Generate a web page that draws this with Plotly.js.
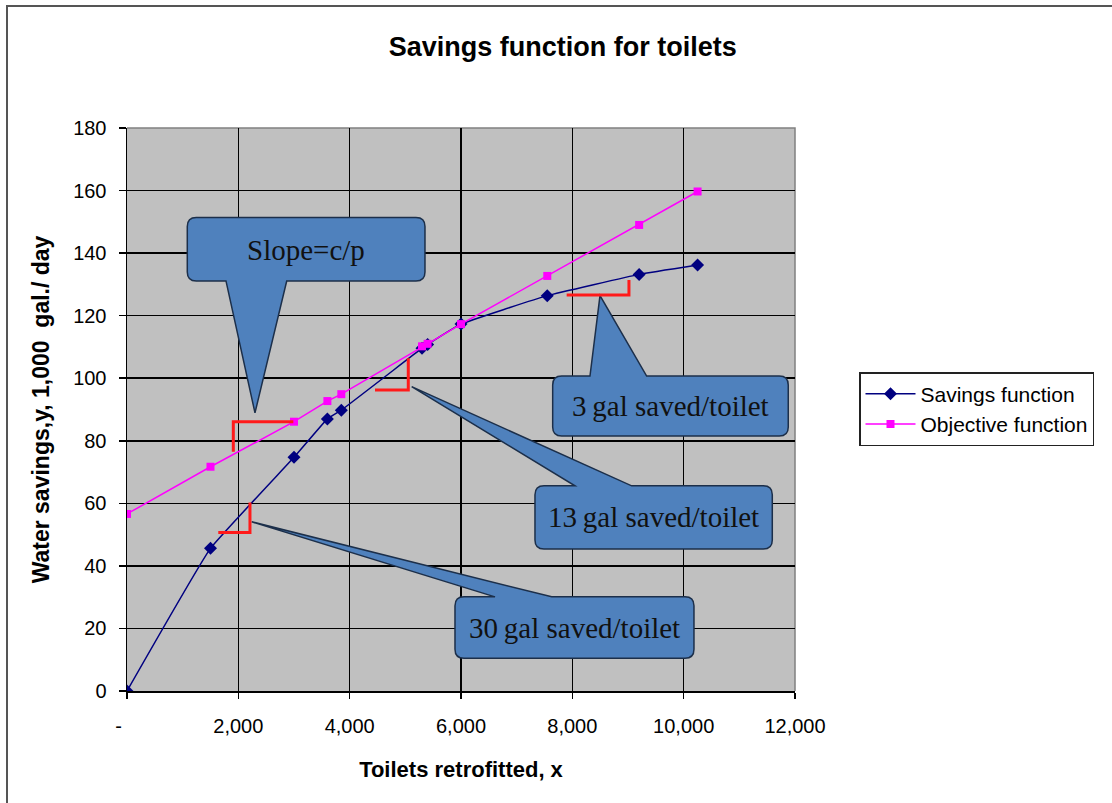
<!DOCTYPE html>
<html>
<head>
<meta charset="utf-8">
<script src="https://cdn.plot.ly/plotly-3.0.1.min.js"></script>
<style>
html,body{margin:0;padding:0;background:#fff;}
#chart{width:1112px;height:803px;}
</style>
</head>
<body>
<div id="chart"></div>
<script>
// ---- data ----
const savingsX = [0, 1500, 3000, 3600, 3850, 5300, 5400, 6000, 7550, 9200, 10250];
const savingsY = [0, 45.6, 74.7, 87.0, 89.8, 109.6, 110.8, 117.3, 126.4, 133.2, 136.2];
const objectiveX = [0, 1500, 3000, 3600, 3850, 5300, 5400, 6000, 7550, 9200, 10250];
const objectiveY = [56.6, 71.7, 86.1, 92.7, 94.9, 110.2, 111.0, 117.3, 132.7, 149.0, 159.7];
const xTickVals = [0, 2000, 4000, 6000, 8000, 10000, 12000];
const xTickText = ["-\u00a0\u00a0\u00a0", "2,000", "4,000", "6,000", "8,000", "10,000", "12,000"];
const yTickVals = [0, 20, 40, 60, 80, 100, 120, 140, 160, 180];
const seriesNames = ["Savings function", "Objective function"];
const calloutTexts = ["Slope=c/p", "3\u2009gal saved/toilet", "13\u2009gal saved/toilet", "30\u2009gal saved/toilet"];

// ---- layout geometry ----
const W = 1112, H = 803;
const M = {l: 127, r: 317, t: 128, b: 112};
const xRange = [0, 12000], yRange = [0, 180];
const plotW = W - M.l - M.r, plotH = H - M.t - M.b;
const pxX = plotW / (xRange[1] - xRange[0]);
const pxY = plotH / (yRange[1] - yRange[0]);

// rounded-rectangle callout with a wedge tail, in data coordinates
function callout(x0, x1, y0, y1, side, a, b, tx, ty) {
  const r = 9, rx = r / pxX, ry = r / pxY;
  let p = `M${x0 + rx},${y1} `;
  if (side === 'top') p += `L${a},${y1} L${tx},${ty} L${b},${y1} `;
  p += `L${x1 - rx},${y1} Q${x1},${y1} ${x1},${y1 - ry} L${x1},${y0 + ry} Q${x1},${y0} ${x1 - rx},${y0} `;
  if (side === 'bottom') p += `L${b},${y0} L${tx},${ty} L${a},${y0} `;
  p += `L${x0 + rx},${y0} Q${x0},${y0} ${x0},${y0 + ry} L${x0},${y1 - ry} Q${x0},${y1} ${x0 + rx},${y1} Z`;
  return {type: 'path', xref: 'x', yref: 'y', path: p, layer: 'above',
          fillcolor: '#4F81BD', line: {color: '#1c2f4a', width: 1.5}};
}
function bracket(pts) {
  const p = pts.map((q, i) => (i ? 'L' : 'M') + q[0] + ',' + q[1]).join(' ');
  return {type: 'path', xref: 'x', yref: 'y', path: p, layer: 'above',
          line: {color: '#FF1A1A', width: 3}};
}
function pxToPaperX(px) { return (px - M.l) / plotW; }
function pxToPaperY(py) { return (H - M.b - py) / plotH; }

const shapes = [
  // outer chart border (left & top visible)
  {type: 'path', xref: 'paper', yref: 'paper', layer: 'above',
   path: `M${pxToPaperX(7)},${pxToPaperY(803)} L${pxToPaperX(7)},${pxToPaperY(6)} L${pxToPaperX(1112)},${pxToPaperY(6)}`,
   line: {color: '#555', width: 2}},
  // plot area border (right/top, gray)
  {type: 'path', xref: 'paper', yref: 'paper', layer: 'below',
   path: 'M0,1 L1,1 L1,0', line: {color: '#808080', width: 1.5}},
  // callouts
  callout(1083, 5353, 131.1, 151.4, 'bottom', 1778, 2869, 2299, 88.9),
  callout(7647, 11879, 81.5, 100.7, 'top', 8317, 9335, 8497, 126.4),
  callout(7329, 11592, 45.4, 65.6, 'top', 8047, 9066, 5114, 97.3),
  callout(5892, 10185, 10.5, 30.1, 'top', 6611, 7629, 2240, 54.1),
  // red slope brackets
  bracket([[1910, 76.5], [1910, 86.1], [2988, 86.1]]),
  bracket([[4455, 96.2], [5053, 96.2], [5053, 106.4]]),
  bracket([[7898, 126.6], [9017, 126.6], [9017, 131.4]]),
  bracket([[1640, 50.7], [2209, 50.7], [2209, 60.3]])
];

const tfont = {family: 'Liberation Serif, Times New Roman, serif', size: 29, color: '#111'};
const annotations = [
  {x: 3217, y: 141.0, text: calloutTexts[0]},
  {x: 9763, y: 91.1, text: calloutTexts[1]},
  {x: 9461, y: 55.5, text: calloutTexts[2]},
  {x: 8038, y: 20.3, text: calloutTexts[3]}
].map(a => Object.assign(a, {xref: 'x', yref: 'y', showarrow: false, font: tfont,
                              xanchor: 'center', yanchor: 'middle'}));

const traces = [
  {x: savingsX, y: savingsY, name: seriesNames[0], type: 'scatter', mode: 'lines+markers',
   line: {color: '#000080', width: 1.5, shape: 'spline', smoothing: 0.3},
   marker: {symbol: 'diamond', size: 10, color: '#000080'}},
  {x: objectiveX, y: objectiveY, name: seriesNames[1], type: 'scatter', mode: 'lines+markers',
   line: {color: '#FF00FF', width: 1.5},
   marker: {symbol: 'square', size: 8, color: '#FF00FF'}}
];

const SANS = 'Liberation Sans, Arial, sans-serif';
const tickFont = {family: SANS, size: 20, color: '#000'};
const layout = {
  width: W, height: H,
  margin: M,
  paper_bgcolor: '#FFFFFF',
  plot_bgcolor: '#C0C0C0',
  font: {family: SANS, color: '#000'},
  title: {text: '<b>Savings function for toilets</b>',
          font: {family: SANS, size: 27, color: '#000'},
          x: 0.506, xref: 'container', xanchor: 'center', y: 1 - 47 / H, yanchor: 'middle'},
  xaxis: {range: xRange, tickvals: xTickVals, ticktext: xTickText,
          showgrid: true, gridcolor: '#000', gridwidth: 1.5, zeroline: false,
          showline: true, linecolor: '#000', linewidth: 1.5,
          ticks: 'outside', ticklen: 6, tickcolor: '#000', tickwidth: 1.5,
          ticklabelstandoff: 10,
          tickfont: tickFont, automargin: false,
          title: {text: '<b>Toilets retrofitted, x</b>', font: {family: SANS, size: 22, color: '#000'}, standoff: 26}},
  yaxis: {range: yRange, tickvals: yTickVals,
          showgrid: true, gridcolor: '#000', gridwidth: 1.5, zeroline: false,
          showline: true, linecolor: '#000', linewidth: 1.5,
          ticks: 'outside', ticklen: 7, tickcolor: '#000', tickwidth: 1.5,
          ticklabelstandoff: 8,
          tickfont: tickFont, automargin: false,
          title: {text: '<b>Water savings,y, 1,000\u00a0 gal./ day</b>', font: {family: SANS, size: 23, color: '#000'}, standoff: 17}},
  legend: {x: pxToPaperX(859), y: pxToPaperY(372), xanchor: 'left', yanchor: 'top',
           bgcolor: '#FFFFFF', bordercolor: '#222', borderwidth: 1.5,
           font: {family: SANS, size: 21, color: '#000'},
           itemwidth: 50, tracegroupgap: 0},
  showlegend: true,
  shapes: shapes,
  annotations: annotations
};

Plotly.newPlot('chart', traces, layout, {displayModeBar: false, staticPlot: true});
</script>
</body>
</html>
